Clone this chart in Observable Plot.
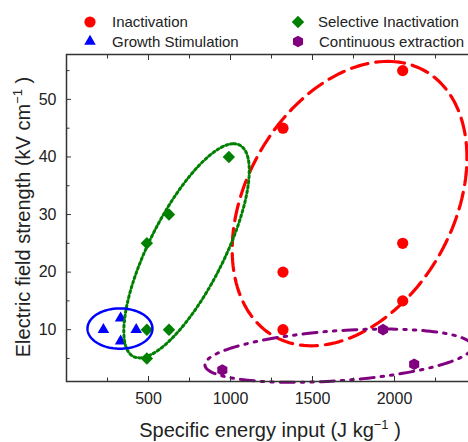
<!DOCTYPE html>
<html><head><meta charset="utf-8">
<script src="https://cdn.jsdelivr.net/npm/d3@7"></script>
<script src="https://cdn.jsdelivr.net/npm/@observablehq/plot@0.6"></script>
<style>
body{margin:0;background:#fff;overflow:hidden;}
#wrap{position:relative;width:468px;height:442px;overflow:hidden;background:#fff;}
#chart{position:absolute;left:0;top:0;width:480px;height:442px;}
#chart svg{max-width:none !important;width:480px;height:442px;}
#legend{position:absolute;left:0;top:0;}
</style></head><body><div id="wrap"><div id="chart"></div><svg id="legend" width="468" height="52"></svg></div>
<script>
// ---- data ----
const groups = ["Inactivation", "Selective Inactivation", "Growth Stimulation", "Continuous extraction"];
const colors = ["#ff0000", "#008000", "#0000ff", "#800080"];
const inactX = [1320, 1320, 1320, 2050, 2050, 2050];
const inactY = [45, 20, 10, 55, 25, 15];
const selX = [990, 625, 490, 625, 490, 490];
const selY = [40, 30, 25, 10, 10, 5];
const growX = [330, 225, 425, 330];
const growY = [12, 10, 10, 8];
const contX = [950, 1930, 2120];
const contY = [3, 10, 4];
const xMajor = [500, 1000, 1500, 2000];
const xMinor = [250, 750, 1250, 1750, 2250];
const yMajor = [10, 20, 30, 40, 50];
const yMinor = [5, 15, 25, 35, 45, 55];
// group outlines (ellipses): centre and two conjugate semi-axis vectors, in data units
const ellCx = [1726, 732, 326, 1659];
const ellCy = [31.9, 23.7, 10.2, 5.48];
const ellAx = [232, 287, 198, 815];
const ellAy = [24.7, 18.6, 0, 1.63];
const ellBx = [677, 253, 0, -10.6];
const ellBy = [0, 0, 3.5, 4.33];

const pts = (xs, ys, g) => xs.map((x, i) => ({x, y: ys[i], g}));
const points = [
  ...pts(inactX, inactY, groups[0]),
  ...pts(selX, selY, groups[1]),
  ...pts(growX, growY, groups[2]),
  ...pts(contX, contY, groups[3])
];
const outline = (i) => d3.range(0, 181).map(k => {
  const t = 2 * Math.PI * k / 180;
  return {x: ellCx[i] + ellAx[i] * Math.cos(t) + ellBx[i] * Math.sin(t),
          y: ellCy[i] + ellAy[i] * Math.cos(t) + ellBy[i] * Math.sin(t)};
});

const hexagon = {draw(ctx, size) {
  const r = Math.sqrt(size * 2 / (3 * Math.sqrt(3)));
  for (let i = 0; i < 6; i++) {
    const a = Math.PI / 3 * i - Math.PI / 2;
    i ? ctx.lineTo(r * Math.cos(a), r * Math.sin(a)) : ctx.moveTo(r * Math.cos(a), r * Math.sin(a));
  }
  ctx.closePath();
}};
const symbols = ["circle", "diamond2", "triangle", hexagon];
const radii = [5.6, 5.6, 4.3, 5.3];

const lineStyles = [
  {strokeWidth: 3.2, strokeDasharray: "17,8"},
  {strokeWidth: 3, strokeDasharray: "2.2,2.8"},
  {strokeWidth: 2.5},
  {strokeWidth: 3, strokeDasharray: "14,7,2.5,7,2.5,7"}
];

const tickStyle = {stroke: "#333", tickFormat: () => "", label: null};
const plot = Plot.plot({
  width: 480, height: 442,
  marginLeft: 66, marginRight: 4, marginTop: 54, marginBottom: 61,
  x: {domain: [0, 2500]},
  y: {domain: [1, 57.8]},
  style: {fontFamily: "'Liberation Sans', Arial, sans-serif", fontSize: "16px", color: "#222", background: "transparent", maxWidth: "none"},
  marks: [
    ...groups.map((g, i) => Plot.dot(points.filter(d => d.g === g), {x: "x", y: "y", fill: colors[i], symbol: symbols[i], r: radii[i]})),
    ...groups.map((g, i) => Plot.line(outline(i), {x: "x", y: "y", stroke: colors[i], ...lineStyles[i]})),
    Plot.axisX(xMajor, {anchor: "bottom", tickSize: 5, dy: -5, ...tickStyle}),
    Plot.axisX(xMinor, {anchor: "bottom", tickSize: 3.5, dy: -3.5, ...tickStyle}),
    Plot.axisX(xMajor, {anchor: "top", tickSize: 5, dy: 5, ...tickStyle}),
    Plot.axisX(xMinor, {anchor: "top", tickSize: 3.5, dy: 3.5, ...tickStyle}),
    Plot.axisY(yMajor, {anchor: "left", tickSize: 5, dx: 5, ...tickStyle}),
    Plot.axisY(yMinor, {anchor: "left", tickSize: 3.5, dx: 3.5, ...tickStyle}),
    Plot.axisX(xMajor, {anchor: "bottom", tickSize: 0, tickPadding: 11, label: null, fontSize: 16, tickFormat: d => String(d)}),
    Plot.axisY(yMajor, {anchor: "left", tickSize: 0, tickPadding: 10, label: null, fontSize: 16, tickFormat: d => String(d)}),
    Plot.frame({stroke: "#333", strokeWidth: 1.5})
  ]
});
document.getElementById("chart").append(plot);

// axis titles
const svg = d3.select(plot);
const font = "'Liberation Sans', Arial, sans-serif";
const yl = svg.append("text").attr("transform", "translate(30,217) rotate(-90)")
  .attr("text-anchor", "middle").attr("font-family", font).attr("font-size", 20).attr("fill", "#222");
yl.append("tspan").text("Electric field strength (kV cm");
yl.append("tspan").attr("dy", -8).attr("font-size", 13).text("−1");
yl.append("tspan").attr("dy", 8).text(" )");
const xl = svg.append("text").attr("x", 270).attr("y", 437)
  .attr("text-anchor", "middle").attr("font-family", font).attr("font-size", 20).attr("fill", "#222");
xl.append("tspan").text("Specific energy input (J kg");
xl.append("tspan").attr("dy", -8).attr("font-size", 13).text("−1");
xl.append("tspan").attr("dy", 8).text(" )");

// legend
const leg = d3.select("#legend");
const legPos = [[90, 22, 112, 27], [298, 22, 318, 27], [90, 41.5, 112, 46.5], [298, 41.5, 319, 46.5]];
const legSym = [d3.symbolCircle, d3.symbolDiamond2, d3.symbolTriangle, hexagon];
groups.forEach((g, i) => {
  const [sx, sy, tx, ty] = legPos[i];
  leg.append("path").attr("transform", `translate(${sx},${sy})`)
    .attr("d", d3.symbol(legSym[i], Math.PI * radii[i] * radii[i])()).attr("fill", colors[i]);
  leg.append("text").attr("x", tx).attr("y", ty).attr("font-family", font).attr("font-size", 15)
    .attr("fill", "#222").text(g);
});
</script></body></html>
